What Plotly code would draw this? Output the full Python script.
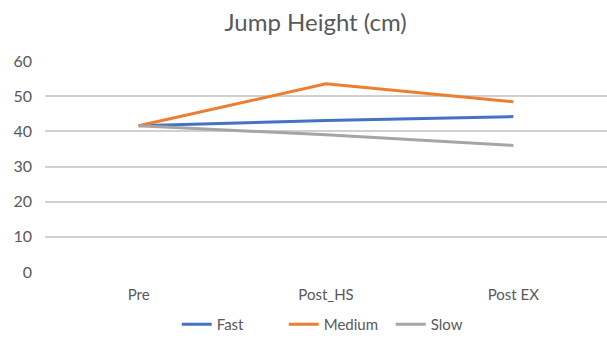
import plotly.graph_objects as go

# Jump height across test phases for three tempo groups
phases = ["Pre", "Post_HS", "Post EX"]
fast = [41.6, 43.1, 44.2]
medium = [41.6, 53.5, 48.4]
slow = [41.6, 39.0, 36.0]

series = [
    ("Fast", fast, "#4472C4"),
    ("Medium", medium, "#ED7D31"),
    ("Slow", slow, "#A5A5A5"),
]

fig = go.Figure()
for name, vals, color in series:
    fig.add_trace(go.Scatter(
        x=phases, y=vals, name=name, mode="lines",
        line=dict(color=color, width=3),
    ))

fig.update_layout(
    width=607, height=341,
    margin=dict(l=45, r=0, t=61, b=68),
    paper_bgcolor="white", plot_bgcolor="white",
    font=dict(family="Lato, Open Sans, sans-serif", color="#595959", size=16),
    title=dict(text="Jump Height (cm)", x=0.52, xanchor="center",
               y=0.935, yanchor="middle",
               font=dict(size=24, color="#595959")),
    xaxis=dict(showgrid=False, showline=False, zeroline=False,
               ticks="", ticklabelstandoff=12, range=[-0.5, 2.5],
               tickfont=dict(size=15, color="#595959")),
    yaxis=dict(range=[0, 60], dtick=10, showgrid=True,
               gridcolor="#D0D0D0", gridwidth=1.5, zeroline=False,
               showline=False, ticks="", ticklabelstandoff=12,
               tickfont=dict(size=16, color="#595959")),
    legend=dict(orientation="h", x=0.52, xanchor="center",
                y=-0.25, yanchor="middle",
                font=dict(size=15, color="#595959"),
                itemwidth=30, entrywidth=62, entrywidthmode="pixels"),
    showlegend=True,
)

fig.write_html("out.html")
